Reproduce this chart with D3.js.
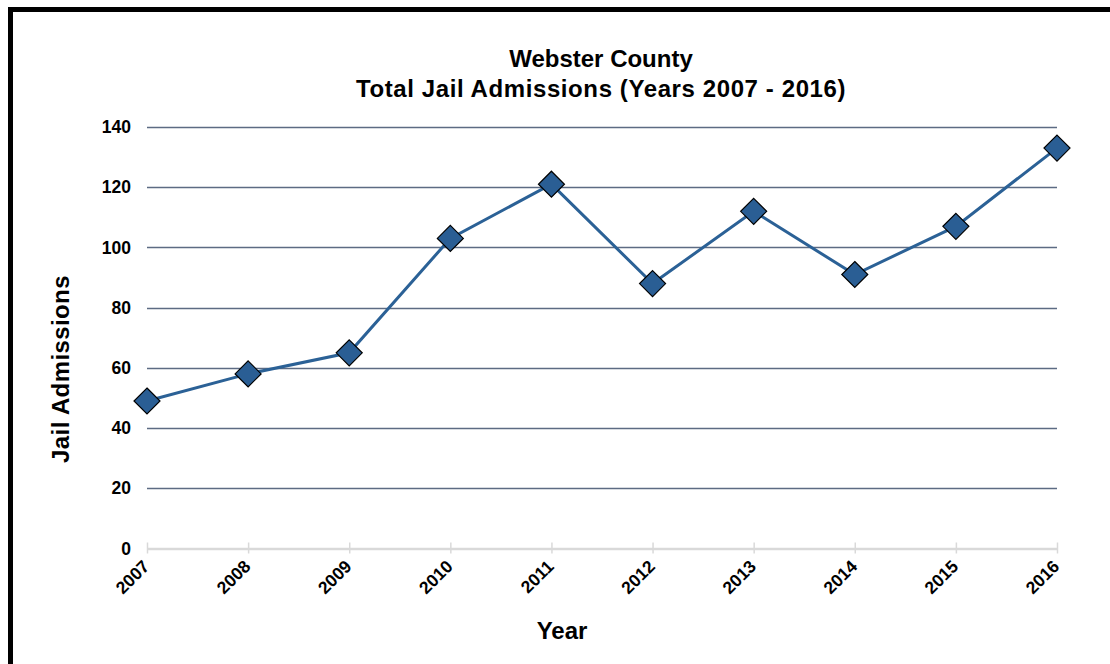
<!DOCTYPE html>
<html>
<head>
<meta charset="utf-8">
<script src="https://cdn.jsdelivr.net/npm/d3@7"></script>
<style>
  html, body { margin: 0; padding: 0; background: #fff; }
  svg { display: block; font-family: "Liberation Sans", Arial, sans-serif; }
</style>
</head>
<body>
<svg id="chart" width="1110" height="664"></svg>
<script>
// Yearly jail admissions, Webster County
const years = ["2007", "2008", "2009", "2010", "2011", "2012", "2013", "2014", "2015", "2016"];
const admissions = [49, 58, 65, 103, 121, 88, 112, 91, 107, 133];
const yTicks = [0, 20, 40, 60, 80, 100, 120, 140];
const titleLines = ["Webster County", "Total Jail Admissions (Years 2007 - 2016)"];

const svg = d3.select("#chart");
const FONT = "Liberation Sans, Arial, sans-serif";

// outer frame (runs past the right and bottom edges)
svg.append("rect")
  .attr("x", 10.5).attr("y", 9.5)
  .attr("width", 1300).attr("height", 900)
  .attr("fill", "none").attr("stroke", "#000").attr("stroke-width", 5);

const plot = { left: 147, right: 1057, top: 127, bottom: 548.5 };

const x = d3.scalePoint().domain(years).range([plot.left, plot.right]);
const y = d3.scaleLinear().domain([0, 140]).range([plot.bottom, plot.top]);

// horizontal gridlines
svg.append("g")
  .selectAll("line")
  .data(yTicks.filter(d => d > 0))
  .join("line")
  .attr("x1", plot.left).attr("x2", plot.right)
  .attr("y1", d => Math.round(y(d)) + 0.5).attr("y2", d => Math.round(y(d)) + 0.5)
  .attr("stroke", "#5d6b83").attr("stroke-width", 1.3);

// y axis labels
const yAxis = svg.append("g")
  .attr("transform", `translate(${plot.left},0)`)
  .call(d3.axisLeft(y).tickValues(yTicks).tickSize(0).tickPadding(16));
yAxis.select(".domain").remove();
yAxis.selectAll("text")
  .attr("font-family", FONT)
  .attr("font-size", 17.5).attr("font-weight", "bold").attr("fill", "#000");

// x axis: light baseline with ticks crossing it
const xAxis = svg.append("g")
  .attr("transform", `translate(0,${plot.bottom})`)
  .call(d3.axisBottom(x).tickSizeInner(5).tickSizeOuter(0).tickPadding(6));
xAxis.select(".domain").attr("stroke", "#d9d9d9").attr("stroke-width", 2.5);
xAxis.selectAll(".tick line")
  .attr("stroke", "#d9d9d9").attr("stroke-width", 1.5)
  .attr("y1", -6).attr("y2", 5);
xAxis.selectAll(".tick text")
  .attr("font-family", FONT)
  .attr("font-size", 17.5).attr("font-weight", "bold").attr("fill", "#000")
  .attr("text-anchor", "end")
  .attr("dy", null).attr("y", 0)
  .attr("transform", "translate(3,19) rotate(-45)");

// data line
const line = d3.line()
  .x((d, i) => x(years[i]))
  .y(d => y(d));
svg.append("path")
  .datum(admissions)
  .attr("d", line)
  .attr("fill", "none")
  .attr("stroke", "#2b6196")
  .attr("stroke-width", 3);

// diamond markers
const r = 13;
svg.append("g")
  .selectAll("path")
  .data(admissions)
  .join("path")
  .attr("transform", (d, i) => `translate(${x(years[i])},${y(d)})`)
  .attr("d", `M0,${-r}L${r},0L0,${r}L${-r},0Z`)
  .attr("fill", "#2a5e94")
  .attr("stroke", "#000")
  .attr("stroke-width", 1.2);

// title
svg.append("text")
  .attr("x", 601).attr("y", 67)
  .attr("text-anchor", "middle")
  .attr("font-family", FONT)
  .attr("font-size", 24).attr("font-weight", "bold")
  .selectAll("tspan")
  .data(titleLines)
  .join("tspan")
  .attr("x", 601)
  .attr("dy", (d, i) => i === 0 ? 0 : 30)
  .attr("letter-spacing", (d, i) => i === 0 ? 0 : 0.6)
  .text(d => d);

// axis titles
svg.append("text")
  .attr("x", 562).attr("y", 639)
  .attr("text-anchor", "middle")
  .attr("font-family", FONT)
  .attr("font-size", 24).attr("font-weight", "bold")
  .text("Year");

svg.append("text")
  .attr("transform", "translate(69,369) rotate(-90)")
  .attr("text-anchor", "middle")
  .attr("font-family", FONT)
  .attr("font-size", 24).attr("font-weight", "bold")
  .attr("letter-spacing", 0.4)
  .text("Jail Admissions");
</script>
</body>
</html>
